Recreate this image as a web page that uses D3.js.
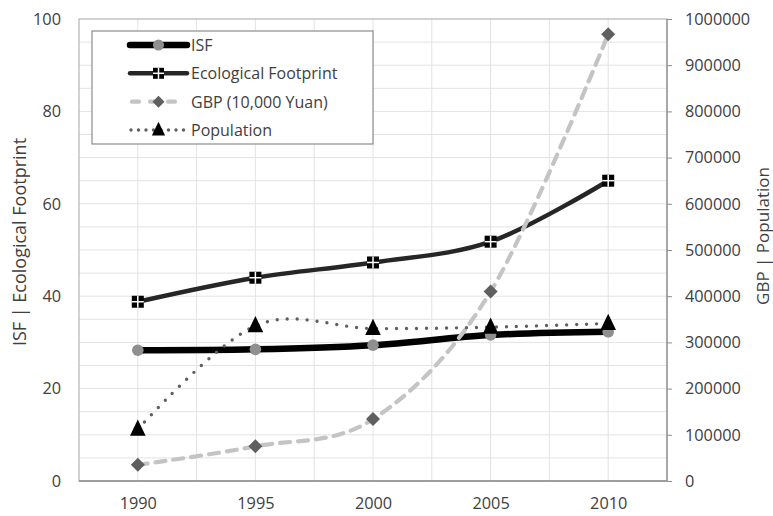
<!DOCTYPE html>
<html><head><meta charset="utf-8">
<script src="https://cdn.jsdelivr.net/npm/d3@7"></script>
<style>
html,body{margin:0;padding:0;background:#fff;}
text{font-family:"Open Sans",sans-serif;fill:#404040;}
</style></head>
<body>
<svg id="c" width="773" height="516"></svg>
<script>
const years = [1990, 1995, 2000, 2005, 2010];
const isf = [28.3, 28.5, 29.4, 31.6, 32.3];
const eco = [38.8, 44.0, 47.3, 51.8, 65.0];
const gbp = [35000, 75000, 134000, 410000, 967000];
const population = [112000, 336000, 330000, 333000, 341000];
const leftTicks = [0, 20, 40, 60, 80, 100];
const rightTicks = [0,100000,200000,300000,400000,500000,600000,700000,800000,900000,1000000];
const seriesNames = ["ISF", "Ecological Footprint", "GBP (10,000 Yuan)", "Population"];
const leftTitle = "ISF | Ecological Footprint";
const rightTitle = "GBP | Population";

const svg = d3.select("#c");
const L = 79, R = 667, T = 19, B = 481;
const FS = 16.3;
const x = d3.scaleLinear().domain([1987.5, 2012.5]).range([L, R]);
const yL = d3.scaleLinear().domain([0, 100]).range([B, T]);
const yR = d3.scaleLinear().domain([0, 1000000]).range([B, T]);

// gridlines
const g = svg.append("g");
g.selectAll("line.h").data(d3.range(5, 100, 5)).join("line")
  .attr("x1", L).attr("x2", R).attr("y1", d => yL(d)).attr("y2", d => yL(d))
  .attr("stroke", "#e3e3e3").attr("stroke-width", 1);
g.selectAll("line.v").data(d3.range(1990, 2012.5, 2.5)).join("line")
  .attr("y1", T).attr("y2", B).attr("x1", d => x(d)).attr("x2", d => x(d))
  .attr("stroke", "#e3e3e3").attr("stroke-width", 1);
// frame
svg.append("rect").attr("x", L).attr("y", T).attr("width", R - L).attr("height", B - T)
  .attr("fill", "none").attr("stroke", "#a6a6a6").attr("stroke-width", 1);
svg.append("line").attr("x1", L).attr("x2", R).attr("y1", B).attr("y2", B)
  .attr("stroke", "#8c8c8c").attr("stroke-width", 1.5);
svg.append("line").attr("x1", R).attr("x2", R).attr("y1", T).attr("y2", B)
  .attr("stroke", "#8c8c8c").attr("stroke-width", 1.2);

// axes
const axL = svg.append("g").attr("transform", `translate(${L},0)`)
  .call(d3.axisLeft(yL).tickValues(leftTicks).tickSize(0).tickPadding(18));
axL.select(".domain").remove();
const axR = svg.append("g").attr("transform", `translate(${R},0)`)
  .call(d3.axisRight(yR).tickValues(rightTicks).tickSize(5).tickPadding(13).tickFormat(d3.format("d")));
axR.select(".domain").remove();
axR.selectAll("line").attr("stroke", "#8c8c8c");
const axB = svg.append("g").attr("transform", `translate(0,${B})`)
  .call(d3.axisBottom(x).tickValues(years).tickSize(0).tickPadding(16).tickFormat(d3.format("d")));
axB.select(".domain").remove();
svg.selectAll(".tick text").attr("font-size", FS).style("font-family", "Open Sans").attr("fill", "#404040");

svg.append("text").attr("transform", `translate(19,242) rotate(-90)`)
  .attr("text-anchor", "middle").attr("dominant-baseline", "central").attr("font-size", 18).text(leftTitle);
svg.append("text").attr("transform", `translate(762,236) rotate(-90)`)
  .attr("text-anchor", "middle").attr("dominant-baseline", "central").attr("font-size", 17).text(rightTitle);

const curve = d3.curveCatmullRom.alpha(0);
const mk = (vals, ys) => years.map((yr, i) => [x(yr), ys(vals[i])]);
const lineGen = d3.line().curve(curve);

const ptsISF = mk(isf, yL), ptsEco = mk(eco, yL), ptsGbp = mk(gbp, yR), ptsPop = mk(population, yR);

function circleMarker(sel, pts, r) {
  sel.selectAll(null).data(pts).join("circle").attr("cx", d => d[0]).attr("cy", d => d[1])
    .attr("r", r).attr("fill", "#8f8f8f");
}
function squareMarker(sel, pts, s) {
  const m = sel.selectAll(null).data(pts).join("g").attr("transform", d => `translate(${d[0]},${d[1]})`);
  m.append("rect").attr("x", -s / 2).attr("y", -s / 2).attr("width", s).attr("height", s).attr("fill", "#000");
  m.append("line").attr("x1", -s / 2).attr("x2", s / 2).attr("y1", 0).attr("y2", 0).attr("stroke", "#fff").attr("stroke-width", 1.5);
  m.append("line").attr("y1", -s / 2).attr("y2", s / 2).attr("x1", 0).attr("x2", 0).attr("stroke", "#fff").attr("stroke-width", 1.5);
}
function diamondMarker(sel, pts, s) {
  sel.selectAll(null).data(pts).join("path").attr("transform", d => `translate(${d[0]},${d[1]})`)
    .attr("d", `M0,${-s}L${s},0L0,${s}L${-s},0Z`).attr("fill", "#5f5f5f");
}
function triMarker(sel, pts, s) {
  sel.selectAll(null).data(pts).join("path").attr("transform", d => `translate(${d[0]},${d[1]})`)
    .attr("d", `M0,${-s * 0.75}L${s * 0.6},${s * 0.5}L${-s * 0.6},${s * 0.5}Z`).attr("fill", "#000");
}

const plot = svg.append("g");
// ISF
plot.append("path").attr("d", lineGen(ptsISF)).attr("fill", "none").attr("stroke", "#000").attr("stroke-width", 6.5);
circleMarker(plot.append("g"), ptsISF, 5.8);
// Eco
plot.append("path").attr("d", lineGen(ptsEco)).attr("fill", "none").attr("stroke", "#262626").attr("stroke-width", 4.5);
squareMarker(plot.append("g"), ptsEco, 12);
// GBP
plot.append("path").attr("d", lineGen(ptsGbp)).attr("fill", "none").attr("stroke", "#c4c4c4")
  .attr("stroke-width", 4.2).attr("stroke-dasharray", "10,8").attr("stroke-linecap", "round");
diamondMarker(plot.append("g"), ptsGbp, 7);
// Population
plot.append("path").attr("d", lineGen(ptsPop)).attr("fill", "none").attr("stroke", "#5f5f5f")
  .attr("stroke-width", 3.4).attr("stroke-dasharray", "0,10").attr("stroke-linecap", "round");
triMarker(plot.append("g"), ptsPop, 13);

// legend
const lg = svg.append("g");
lg.append("rect").attr("x", 92).attr("y", 31).attr("width", 281).attr("height", 113)
  .attr("fill", "#fff").attr("stroke", "#8c8c8c").attr("stroke-width", 1.2);
const ly = [45, 73.3, 101.7, 130];
const lx1 = 130, lx2 = 187, lxm = 158.5;
lg.append("line").attr("x1", lx1).attr("x2", lx2).attr("y1", ly[0]).attr("y2", ly[0])
  .attr("stroke", "#000").attr("stroke-width", 6.5).attr("stroke-linecap", "round");
circleMarker(lg.append("g"), [[lxm, ly[0]]], 5.5);
lg.append("line").attr("x1", lx1).attr("x2", lx2).attr("y1", ly[1]).attr("y2", ly[1])
  .attr("stroke", "#262626").attr("stroke-width", 4.5).attr("stroke-linecap", "round");
squareMarker(lg.append("g"), [[lxm, ly[1]]], 11);
lg.append("line").attr("x1", lx1 + 2).attr("x2", lx2 - 2).attr("y1", ly[2]).attr("y2", ly[2])
  .attr("stroke", "#c4c4c4").attr("stroke-width", 4.2).attr("stroke-dasharray", "7,11").attr("stroke-linecap", "round");
diamondMarker(lg.append("g"), [[lxm, ly[2]]], 6);
lg.append("line").attr("x1", lx1 + 1).attr("x2", lx2 + 1).attr("y1", ly[3]).attr("y2", ly[3])
  .attr("stroke", "#5f5f5f").attr("stroke-width", 3.4).attr("stroke-dasharray", "0,7.5").attr("stroke-linecap", "round");
triMarker(lg.append("g"), [[lxm, ly[3]]], 11);
lg.selectAll("text.l").data(seriesNames).join("text").attr("x", 191).attr("y", (d, i) => ly[i])
  .attr("dominant-baseline", "central").attr("font-size", 16).text(d => d);
</script>
</body></html>
